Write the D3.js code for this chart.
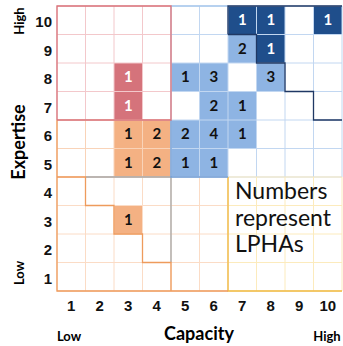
<!DOCTYPE html>
<html>
<head>
<meta charset="utf-8">
<script src="https://cdn.jsdelivr.net/npm/d3@7"></script>
<style>
  body { margin: 0; background: #fff; }
  svg { display: block; font-family: Lato, "Open Sans", sans-serif; }
  .tick text { font-weight: bold; font-size: 15px; fill: #111; }
</style>
</head>
<body>
<svg width="343" height="346"></svg>
<script>
// categories
const capacity = [1, 2, 3, 4, 5, 6, 7, 8, 9, 10];
const expertise = [1, 2, 3, 4, 5, 6, 7, 8, 9, 10];

// [capacity, expertise, number of LPHAs]
const redCells = [[3, 8, 1], [3, 7, 1]];
const orangeCells = [[3, 6, 1], [4, 6, 2], [3, 5, 1], [4, 5, 2], [3, 3, 1]];
const lightBlueCells = [
  [5, 8, 1], [6, 8, 3], [8, 8, 3], [7, 9, 2],
  [6, 7, 2], [7, 7, 1],
  [5, 6, 2], [6, 6, 4], [7, 6, 1],
  [5, 5, 1], [6, 5, 1]
];
const darkBlueCells = [[7, 10, 1], [8, 10, 1], [10, 10, 1], [8, 9, 1]];

const axisLabels = { x: 'Capacity', y: 'Expertise', low: 'Low', high: 'High' };
const note = ['Numbers', 'represent', 'LPHAs'];

const svg = d3.select('svg');
const margin = {top: 6, left: 57},
    size = 285;

const x = d3.scaleBand().domain(capacity).range([margin.left, margin.left + size]);
const y = d3.scaleBand().domain(expertise.slice().reverse()).range([margin.top, margin.top + size]);
// grid edges, 0..10
const xe = d3.scaleLinear().domain([0, 10]).range([margin.left, margin.left + size]);
const ye = d3.scaleLinear().domain([0, 10]).range([margin.top + size, margin.top]);

const groups = [
  {cells: redCells, fill: '#d5737b', text: '#fff'},
  {cells: orangeCells, fill: '#f4b183', text: '#111'},
  {cells: lightBlueCells, fill: '#8eb4e3', text: '#111'},
  {cells: darkBlueCells, fill: '#1f4e8b', text: '#fff'}
];

const gCells = svg.append('g');
groups.forEach((grp) => {
  gCells.selectAll(null)
    .data(grp.cells)
    .enter()
    .append('rect')
    .attr('x', (d) => x(d[0]))
    .attr('y', (d) => y(d[1]))
    .attr('width', x.bandwidth())
    .attr('height', y.bandwidth())
    .attr('fill', grp.fill);
});

// light inner grid lines, one colour per zone  [x0, x1, y0, y1] in edges
const zones = [
  {box: [0, 4, 6, 10], color: '#f3c8cb'},
  {box: [0, 4, 4, 6], color: '#f9d3b8'},
  {box: [4, 10, 4, 10], color: '#c2d7f1'},
  {box: [0, 6, 0, 4], color: '#fbdcc6'},
  {box: [6, 10, 0, 4], color: '#fcebbd'}
];

const gGrid = svg.append('g');
zones.forEach((z) => {
  const [x0, x1, y0, y1] = z.box;
  d3.range(x0, x1 + 1).forEach((k) => {
    gGrid.append('line')
      .attr('x1', xe(k)).attr('x2', xe(k))
      .attr('y1', ye(y0)).attr('y2', ye(y1))
      .attr('stroke', z.color).attr('stroke-width', 1);
  });
  d3.range(y0, y1 + 1).forEach((k) => {
    gGrid.append('line')
      .attr('x1', xe(x0)).attr('x2', xe(x1))
      .attr('y1', ye(k)).attr('y2', ye(k))
      .attr('stroke', z.color).attr('stroke-width', 1);
  });
});

// zone borders, points in grid edges
const borders = [
  {pts: [[6, 4], [6, 0], [10, 0]], color: '#f0b942'},
  {pts: [[1, 4], [4, 4], [4, 1]], color: '#a6a6a6'},
  {pts: [[4, 10], [6, 10]], color: '#a9c8ec'},
  {pts: [[4, 6], [4, 4], [6, 4]], color: '#6fa0dc'},
  {pts: [[0, 6], [0, 0], [6, 0]], color: '#ee9b5c'},
  {pts: [[0, 4], [1, 4], [1, 3], [2, 3], [2, 2], [3, 2], [3, 1], [4, 1], [4, 0]], color: '#ee9b5c'},
  {pts: [[0, 6], [0, 10], [4, 10], [4, 6], [0, 6]], color: '#d9737b'},
  {pts: [[6, 9], [6, 10], [10, 10]], color: '#1f3864'},
  {pts: [[6, 9], [7, 9], [7, 8], [8, 8], [8, 7], [9, 7], [9, 6], [10, 6]], color: '#1f3864'}
];

const line = d3.line().x((d) => xe(d[0])).y((d) => ye(d[1]));
svg.append('g')
  .selectAll('path')
  .data(borders)
  .enter()
  .append('path')
  .attr('d', (d) => line(d.pts))
  .attr('fill', 'none')
  .attr('stroke', (d) => d.color)
  .attr('stroke-width', 1.3);

// counts
const gNums = svg.append('g');
groups.forEach((grp) => {
  gNums.selectAll(null)
    .data(grp.cells)
    .enter()
    .append('text')
    .attr('x', (d) => x(d[0]) + x.bandwidth() / 2)
    .attr('y', (d) => y(d[1]) + y.bandwidth() / 2 + 5)
    .attr('text-anchor', 'middle')
    .style('font-weight', 'bold')
    .style('font-size', '15px')
    .attr('fill', grp.text)
    .text((d) => d[2]);
});

// axes
const xAxis = svg.append('g')
  .attr('transform', 'translate(0,' + (margin.top + size) + ')')
  .call(d3.axisBottom(x).tickSize(0).tickPadding(9));
xAxis.select('.domain').remove();

const yAxis = svg.append('g')
  .attr('transform', 'translate(' + (margin.left - 5) + ',0)')
  .call(d3.axisLeft(y).tickSize(0).tickPadding(0));
yAxis.select('.domain').remove();
yAxis.selectAll('text').attr('dy', '0.45em');

// axis titles
svg.append('text')
  .attr('x', 199).attr('y', 340)
  .attr('text-anchor', 'middle')
  .style('font-weight', 'bold').style('font-size', '18px')
  .text(axisLabels.x);

svg.append('text')
  .attr('x', 69).attr('y', 341)
  .attr('text-anchor', 'middle')
  .style('font-weight', 'bold').style('font-size', '13px')
  .text(axisLabels.low);

svg.append('text')
  .attr('x', 327).attr('y', 341)
  .attr('text-anchor', 'middle')
  .style('font-weight', 'bold').style('font-size', '13px')
  .text(axisLabels.high);

svg.append('text')
  .attr('transform', 'translate(25,142) rotate(-90)')
  .attr('text-anchor', 'middle')
  .style('font-weight', 'bold').style('font-size', '18px')
  .text(axisLabels.y);

svg.append('text')
  .attr('transform', 'translate(24,21) rotate(-90)')
  .attr('text-anchor', 'middle')
  .style('font-weight', 'bold').style('font-size', '13px')
  .text(axisLabels.high);

svg.append('text')
  .attr('transform', 'translate(24,273) rotate(-90)')
  .attr('text-anchor', 'middle')
  .style('font-weight', 'bold').style('font-size', '13px')
  .text(axisLabels.low);

// note
svg.append('g')
  .selectAll('text')
  .data(note)
  .enter()
  .append('text')
  .attr('x', 235)
  .attr('y', (d, i) => 199 + i * 26.5)
  .style('font-size', '23px')
  .attr('fill', '#111')
  .text((d) => d);
</script>
</body>
</html>
